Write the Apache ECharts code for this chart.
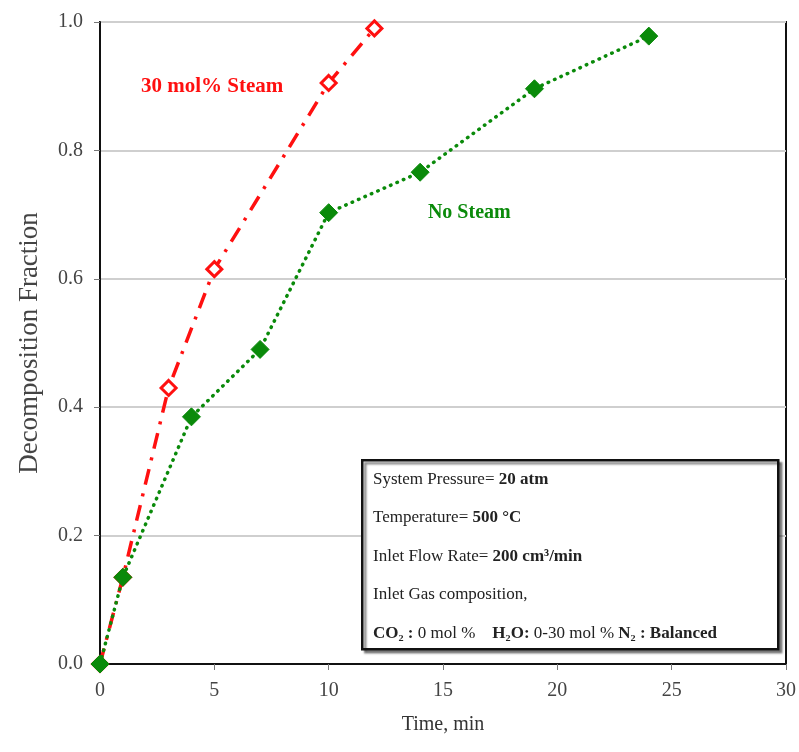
<!DOCTYPE html>
<html>
<head>
<meta charset="utf-8">
<script src="https://cdn.jsdelivr.net/npm/echarts@6/dist/echarts.min.js"></script>
<style>
    html, body { margin: 0; padding: 0; background: #fff; }
    #chart { width: 799px; height: 752px; }
</style>
</head>
<body>
<div id="chart"></div>
<script>
    // data
    var steamTime = [0, 1, 3, 5, 10, 12];
    var steamFrac = [0, 0.135, 0.43, 0.615, 0.905, 0.99];
    var noSteamTime = [0, 1, 4, 7, 10, 14, 19, 24];
    var noSteamFrac = [0, 0.135, 0.385, 0.49, 0.703, 0.766, 0.896, 0.978];
    var steamLabel = '30 mol% Steam';
    var noSteamLabel = 'No Steam';
    var infoLines = [
        ['System Pressure= ', '20 atm'],
        ['Temperature= ', '500 °C'],
        ['Inlet Flow Rate= ', '200 cm³/min'],
        ['Inlet Gas composition,', ''],
        ['', 'CO₂ : 0 mol %   H₂O: 0-30 mol % N₂ : Balanced']
    ];

    function pairs(xs, ys) {
        return xs.map(function (x, i) { return [x, ys[i]]; });
    }

    var serif = '"Liberation Serif", "DejaVu Serif", serif';
    var myChart = echarts.init(document.getElementById('chart'));

    var infoText = infoLines.map(function (l) {
        if (l[0] === '') {
            // last line: bold chem names, normal amounts
            return '{b|CO₂ : }{n|0 mol %    }{b|H₂O: }{n|0-30 mol % }{b|N₂ : Balanced}';
        }
        return '{n|' + l[0] + '}' + (l[1] ? '{b|' + l[1] + '}' : '');
    }).join('\n');

    myChart.setOption({
        animation: false,
        backgroundColor: '#fff',
        grid: {
            left: 100,
            right: 12,
            top: 22,
            bottom: 88,
            show: true,
            borderColor: '#111',
            borderWidth: 2
        },
        xAxis: {
            type: 'value',
            min: 0,
            max: 30,
            interval: 5,
            name: 'Time, min',
            nameLocation: 'middle',
            nameGap: 51,
            nameTextStyle: { fontFamily: serif, fontSize: 20, color: '#333' },
            axisLine: { lineStyle: { color: '#111', width: 2 } },
            axisTick: { show: true, length: 6, lineStyle: { color: '#777' } },
            axisLabel: { fontFamily: serif, fontSize: 20, color: '#444', margin: 17 },
            splitLine: { show: false }
        },
        yAxis: {
            type: 'value',
            min: 0,
            max: 1,
            interval: 0.2,
            name: 'Decomposition Fraction',
            nameLocation: 'middle',
            nameGap: 57,
            nameTextStyle: { fontFamily: serif, fontSize: 27, color: '#444' },
            axisLine: { show: true, lineStyle: { color: '#111', width: 2 } },
            axisTick: { show: true, length: 6, lineStyle: { color: '#777' } },
            axisLabel: {
                fontFamily: serif, fontSize: 20, color: '#444', margin: 17,
                formatter: function (v) { return v.toFixed(1); }
            },
            splitLine: { show: true, lineStyle: { color: '#cfcfcf', width: 2 } }
        },
        series: [{
            name: noSteamLabel,
            type: 'line',
            data: pairs(noSteamTime, noSteamFrac),
            symbol: 'diamond',
            symbolSize: 18,
            z: 3,
            itemStyle: { color: '#0a8a0a', borderColor: '#0a8a0a', borderWidth: 1 },
            lineStyle: { color: '#0a8a0a', width: 3.5, type: [0.5, 6.5], cap: 'round' },
            markPoint: {
                symbol: 'circle',
                symbolSize: 0,
                data: [{ coord: [16.15, 0.703] }],
                label: {
                    show: true,
                    formatter: noSteamLabel,
                    color: '#0a8a0a',
                    fontFamily: serif,
                    fontSize: 20,
                    fontWeight: 'bold'
                }
            }
        }, {
            name: steamLabel,
            type: 'line',
            data: pairs(steamTime, steamFrac),
            symbol: 'diamond',
            symbolSize: 15,
            z: 2,
            itemStyle: { color: '#fff', borderColor: '#ff1010', borderWidth: 3 },
            lineStyle: { color: '#ff1010', width: 3.5, type: [16, 9, 3, 9] },
            markPoint: {
                symbol: 'circle',
                symbolSize: 0,
                data: [{ coord: [4.9, 0.9] }],
                label: {
                    show: true,
                    formatter: steamLabel,
                    color: '#ff1010',
                    fontFamily: serif,
                    fontSize: 21,
                    fontWeight: 'bold'
                }
            }
        }],
        graphic: [{
            type: 'rect',
            left: 361,
            top: 459,
            z: 10,
            shape: { width: 416, height: 189 },
            style: {
                fill: '#fff',
                stroke: '#111',
                lineWidth: 2.5,
                shadowColor: 'rgba(0,0,0,0.45)',
                shadowOffsetX: 3,
                shadowOffsetY: 3,
                shadowBlur: 2
            }
        }, {
            type: 'text',
            left: 373,
            top: 460,
            z: 11,
            style: {
                text: infoText,
                fill: '#222',
                lineHeight: 38.5,
                rich: {
                    n: { fontFamily: serif, fontSize: 17, color: '#444', lineHeight: 38.5 },
                    b: { fontFamily: serif, fontSize: 17, fontWeight: 'bold', color: '#222', lineHeight: 38.5 }
                }
            }
        }]
    });
</script>
</body>
</html>
